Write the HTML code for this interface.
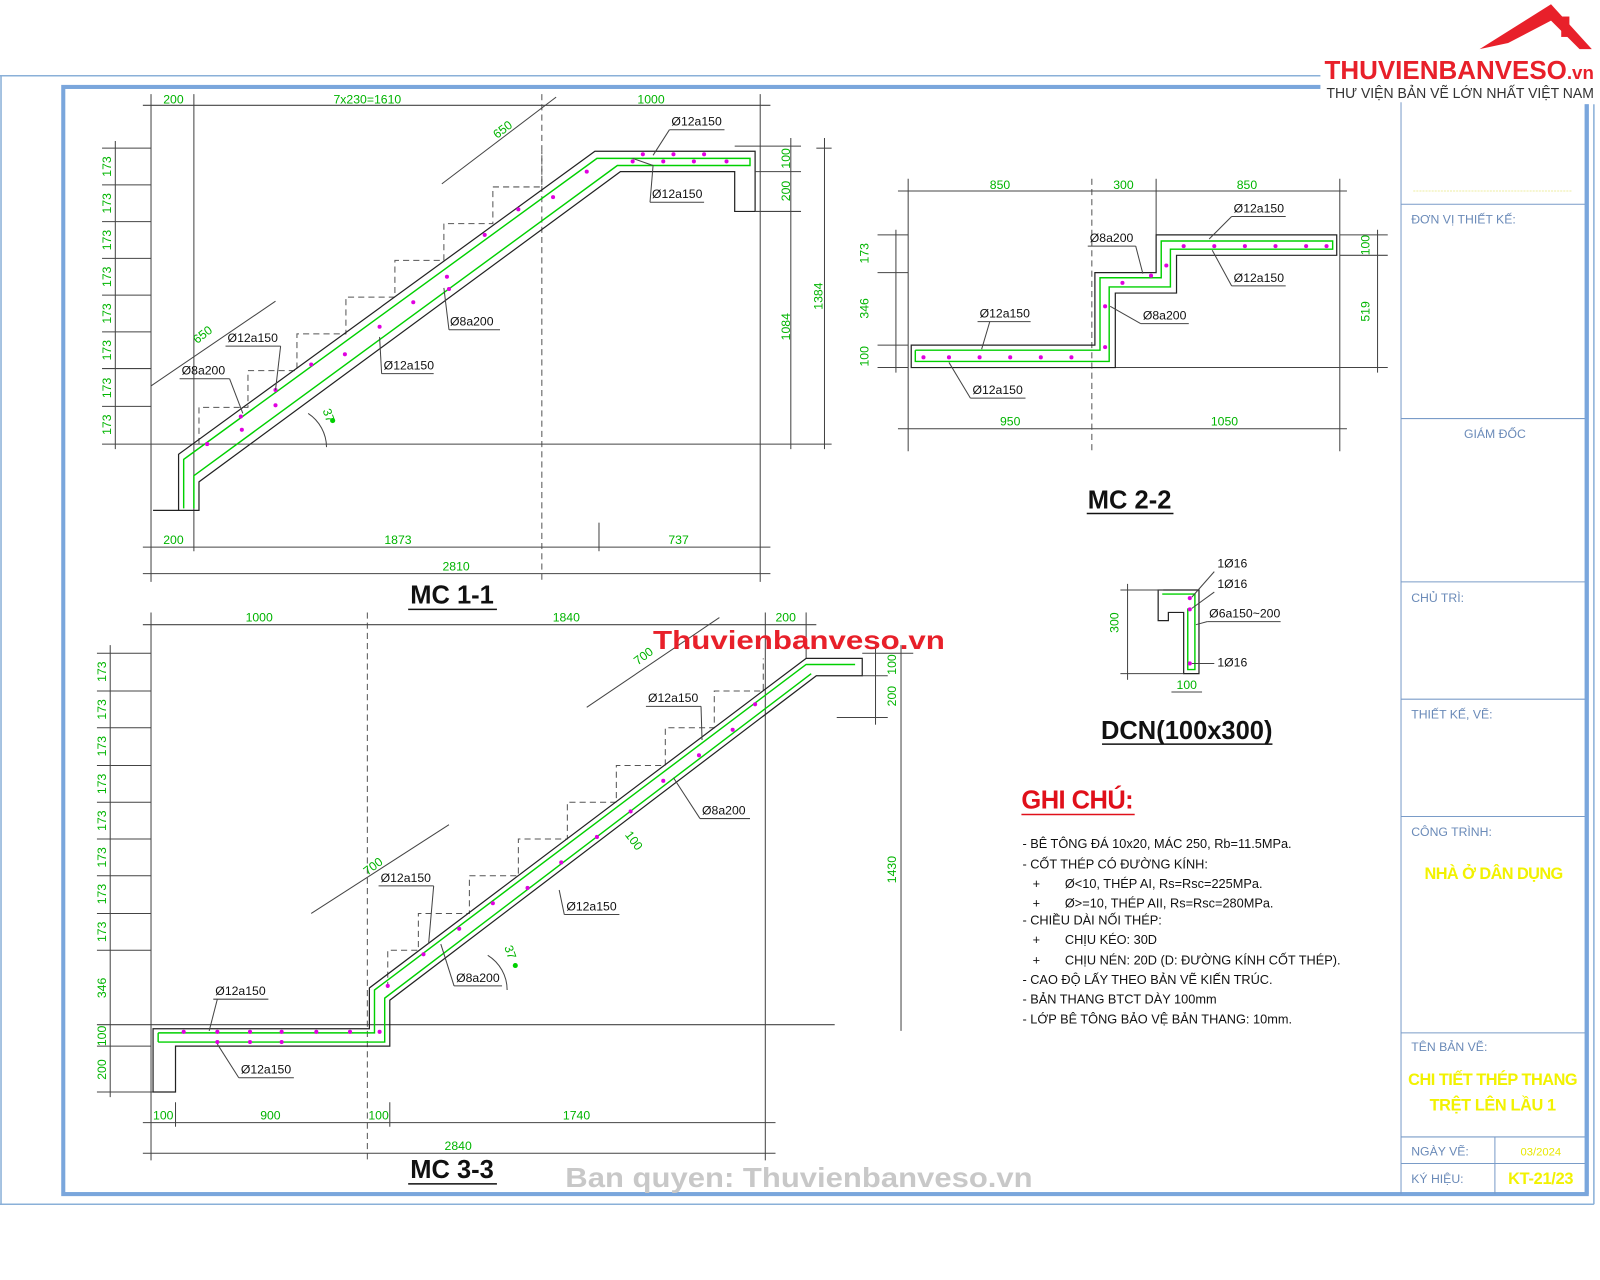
<!DOCTYPE html>
<html><head><meta charset="utf-8"><style>
html,body{margin:0;padding:0;background:#fff;}
svg{display:block}
text{font-family:"Liberation Sans Narrow","Liberation Sans",sans-serif;}
.g{fill:#00b400;font-size:12px}
.k{fill:#111;font-size:12px}
.d{stroke:#444;stroke-width:1;fill:none}
.ds{stroke:#555;stroke-width:1;fill:none;stroke-dasharray:6 4}
.c{stroke:#222;stroke-width:1.2;fill:none}
.r{stroke:#00d000;stroke-width:1.4;fill:none}
.m{fill:#e000e0}
.t{font-size:12px;fill:#6a8ab8}
.y{fill:#f2f200;font-weight:bold;font-size:16px}
.n{font-size:12.5px;fill:#111}
</style></head><body>
<svg width="1600" height="1280" viewBox="0 0 1568 1254" xmlns="http://www.w3.org/2000/svg">
<rect width="1568" height="1254" fill="#fff"/>
<!-- frames -->
<line x1="0" y1="74" x2="1300" y2="74" stroke="#8ab0d8" stroke-width="1.5"/>
<line x1="1" y1="74" x2="1" y2="1180" stroke="#8ab0d8" stroke-width="1.5"/>
<line x1="0" y1="1180" x2="1562" y2="1180" stroke="#8ab0d8" stroke-width="1.5"/>
<line x1="1562" y1="100" x2="1562" y2="1180" stroke="#8ab0d8" stroke-width="1.5"/>
<rect x="62" y="85" width="1493" height="1085" fill="none" stroke="#7aa6dc" stroke-width="4"/>
<rect x="1294" y="0" width="274" height="102" fill="#fff"/>
<!-- title block -->
<g stroke="#7a9cc8" stroke-width="1" fill="none">
<line x1="1373" y1="100" x2="1373" y2="1170"/>
<line x1="1373" y1="200" x2="1555" y2="200"/>
<line x1="1373" y1="410" x2="1555" y2="410"/>
<line x1="1373" y1="570" x2="1555" y2="570"/>
<line x1="1373" y1="685" x2="1555" y2="685"/>
<line x1="1373" y1="800" x2="1555" y2="800"/>
<line x1="1373" y1="1012" x2="1555" y2="1012"/>
<line x1="1373" y1="1114" x2="1555" y2="1114"/>
<line x1="1373" y1="1140" x2="1555" y2="1140"/>
<line x1="1465" y1="1114" x2="1465" y2="1170"/>
</g>
<line x1="1555" y1="102" x2="1555" y2="1170" stroke="#7aa6dc" stroke-width="4"/>
<line x1="1385" y1="187" x2="1540" y2="187" stroke="#eeeea0" stroke-width="1" stroke-dasharray="2 1"/>
<text class="t" x="1383" y="219">ĐƠN VỊ THIẾT KẾ:</text>
<text class="t" x="1465" y="429" text-anchor="middle">GIÁM ĐỐC</text>
<text class="t" x="1383" y="590">CHỦ TRÌ:</text>
<text class="t" x="1383" y="704">THIẾT KẾ, VẼ:</text>
<text class="t" x="1383" y="819">CÔNG TRÌNH:</text>
<text class="y" x="1464" y="861" text-anchor="middle" font-size="15" textLength="136">NHÀ Ở DÂN DỤNG</text>
<text class="t" x="1383" y="1030">TÊN BẢN VẼ:</text>
<text class="y" x="1463" y="1063" text-anchor="middle" textLength="166">CHI TIẾT THÉP THANG</text>
<text class="y" x="1463" y="1088" text-anchor="middle" textLength="124">TRỆT LÊN LẦU 1</text>
<text class="t" x="1383" y="1132">NGÀY VẼ:</text>
<text x="1510" y="1132" text-anchor="middle" font-size="11" fill="#e8e800">03/2024</text>
<text class="t" x="1383" y="1159">KÝ HIỆU:</text>
<text class="y" x="1510" y="1160" text-anchor="middle" textLength="64">KT-21/23</text>
<!-- logo -->
<path d="M1450 48 L1520 4 L1560 48 L1548 48 L1520 20 L1478 42 Z" fill="#e8202a"/>
<rect x="1530" y="16" width="8" height="20" fill="#e8202a"/>
<text x="1298" y="77" font-size="25" font-weight="bold" fill="#e8202a" textLength="264" lengthAdjust="spacingAndGlyphs">THUVIENBANVESO<tspan font-size="18">.vn</tspan></text>
<text x="1300" y="96" font-size="14.5" fill="#333" textLength="262" lengthAdjust="spacingAndGlyphs">THƯ VIỆN BẢN VẼ LỚN NHẤT VIỆT NAM</text>

<!-- ===== MC 1-1 ===== -->
<g>
<line class="d" x1="148" y1="92" x2="148" y2="570"/>
<line class="d" x1="190" y1="92" x2="190" y2="540"/>
<line class="ds" x1="531" y1="92" x2="531" y2="570"/>
<line class="d" x1="745" y1="92" x2="745" y2="570"/>
<line class="d" x1="140" y1="103" x2="755" y2="103"/>
<text class="g" x="170" y="101" text-anchor="middle">200</text>
<text class="g" x="360" y="101" text-anchor="middle">7x230=1610</text>
<text class="g" x="638" y="101" text-anchor="middle">1000</text>
<line class="d" x1="113" y1="138" x2="113" y2="440"/>
<g class="d">
<line x1="100" y1="145" x2="148" y2="145"/><line x1="100" y1="181" x2="148" y2="181"/>
<line x1="100" y1="217" x2="148" y2="217"/><line x1="100" y1="253" x2="148" y2="253"/>
<line x1="100" y1="289" x2="148" y2="289"/><line x1="100" y1="325" x2="148" y2="325"/>
<line x1="100" y1="361" x2="148" y2="361"/><line x1="100" y1="398" x2="148" y2="398"/>
<line x1="100" y1="435" x2="815" y2="435"/>
</g>
<g class="g" font-size="12">
<text transform="translate(109,163) rotate(-90)" text-anchor="middle">173</text>
<text transform="translate(109,199) rotate(-90)" text-anchor="middle">173</text>
<text transform="translate(109,235) rotate(-90)" text-anchor="middle">173</text>
<text transform="translate(109,271) rotate(-90)" text-anchor="middle">173</text>
<text transform="translate(109,307) rotate(-90)" text-anchor="middle">173</text>
<text transform="translate(109,343) rotate(-90)" text-anchor="middle">173</text>
<text transform="translate(109,380) rotate(-90)" text-anchor="middle">173</text>
<text transform="translate(109,416) rotate(-90)" text-anchor="middle">173</text>
</g>
<polyline class="ds" points="195,435 195,399 243,399 243,363 291,363 291,327 339,327 339,291 387,291 387,255 435,255 435,219 483,219 483,183 531,183 531,148"/>
<polygon class="c" points="150,500 175,500 175,445 583,148 740,148 740,207 720,207 720,168 608,168 195,472 195,500 150,500"/>
<polyline class="r" points="180,498 180,450 585,155 735,155 735,162 605,162 190,466 190,498"/>
<g class="m">
<circle cx="203" cy="435" r="2"/><circle cx="236" cy="408" r="2"/><circle cx="270" cy="382" r="2"/><circle cx="305" cy="357" r="2"/><circle cx="338" cy="347" r="2"/><circle cx="372" cy="320" r="2"/><circle cx="405" cy="296" r="2"/><circle cx="438" cy="271" r="2"/><circle cx="475" cy="230" r="2"/><circle cx="508" cy="205" r="2"/><circle cx="542" cy="193" r="2"/><circle cx="575" cy="168" r="2"/>
<circle cx="620" cy="158" r="2"/><circle cx="650" cy="158" r="2"/><circle cx="680" cy="158" r="2"/><circle cx="712" cy="158" r="2"/><circle cx="630" cy="151" r="2"/><circle cx="660" cy="151" r="2"/><circle cx="690" cy="151" r="2"/>
<circle cx="270" cy="397" r="2"/><circle cx="237" cy="421" r="2"/><circle cx="440" cy="283" r="2"/>
</g>
<line class="d" x1="433" y1="180" x2="545" y2="95"/>
<text class="g" transform="translate(487,136) rotate(-37)">650</text>
<line class="d" x1="148" y1="378" x2="270" y2="295"/>
<text class="g" transform="translate(193,337) rotate(-37)">650</text>
<path d="M320 438 A40 40 0 0 0 302 405" class="d"/>
<text class="g" transform="translate(316,402) rotate(70)">37</text>
<circle cx="326" cy="412" r="2.5" fill="#00d000"/>
<text class="k" x="658" y="123">Ø12a150</text><line class="d" x1="656" y1="127" x2="710" y2="127"/>
<line class="d" x1="656" y1="127" x2="640" y2="152"/>
<text class="k" x="639" y="194">Ø12a150</text><line class="d" x1="637" y1="198" x2="690" y2="198"/>
<line class="d" x1="637" y1="198" x2="640" y2="162"/><line class="d" x1="640" y1="162" x2="620" y2="155"/>
<text class="k" x="441" y="319">Ø8a200</text><line class="d" x1="440" y1="323" x2="490" y2="323"/><line class="d" x1="440" y1="323" x2="435" y2="282"/>
<text class="k" x="376" y="362">Ø12a150</text><line class="d" x1="374" y1="366" x2="425" y2="366"/><line class="d" x1="374" y1="366" x2="372" y2="330"/>
<text class="k" x="223" y="335">Ø12a150</text><line class="d" x1="221" y1="339" x2="275" y2="339"/><line class="d" x1="275" y1="339" x2="270" y2="382"/>
<text class="k" x="178" y="367">Ø8a200</text><line class="d" x1="176" y1="371" x2="225" y2="371"/><line class="d" x1="225" y1="371" x2="238" y2="405"/>
<line class="d" x1="140" y1="536" x2="755" y2="536"/>
<line class="d" x1="587" y1="512" x2="587" y2="540"/>
<text class="g" x="170" y="533" text-anchor="middle">200</text>
<text class="g" x="390" y="533" text-anchor="middle">1873</text>
<text class="g" x="665" y="533" text-anchor="middle">737</text>
<line class="d" x1="140" y1="562" x2="755" y2="562"/>
<text class="g" x="447" y="559" text-anchor="middle">2810</text>
<line class="d" x1="720" y1="143" x2="785" y2="143"/>
<line class="d" x1="740" y1="168" x2="785" y2="168"/>
<line class="d" x1="740" y1="207" x2="785" y2="207"/>
<line class="d" x1="775" y1="135" x2="775" y2="440"/>
<line class="d" x1="800" y1="145" x2="815" y2="145"/>
<line class="d" x1="808" y1="135" x2="808" y2="440"/>
<text class="g" transform="translate(774,155) rotate(-90)" text-anchor="middle">100</text>
<text class="g" transform="translate(774,187) rotate(-90)" text-anchor="middle">200</text>
<text class="g" transform="translate(774,320) rotate(-90)" text-anchor="middle">1084</text>
<text class="g" transform="translate(806,290) rotate(-90)" text-anchor="middle">1384</text>
<text x="443" y="591" text-anchor="middle" font-size="25" font-weight="bold" fill="#111">MC 1-1</text>
<line x1="400" y1="597" x2="487" y2="597" stroke="#111" stroke-width="1.5"/>
</g>

<!-- ===== MC 2-2 ===== -->
<g>
<line class="d" x1="890" y1="175" x2="890" y2="442"/>
<line class="ds" x1="1070" y1="175" x2="1070" y2="442"/>
<line class="d" x1="1133" y1="175" x2="1133" y2="230"/>
<line class="d" x1="1313" y1="175" x2="1313" y2="442"/>
<line class="d" x1="880" y1="187" x2="1320" y2="187"/>
<text class="g" x="980" y="185" text-anchor="middle">850</text>
<text class="g" x="1101" y="185" text-anchor="middle">300</text>
<text class="g" x="1222" y="185" text-anchor="middle">850</text>
<line class="d" x1="880" y1="420" x2="1320" y2="420"/>
<text class="g" x="990" y="417" text-anchor="middle">950</text>
<text class="g" x="1200" y="417" text-anchor="middle">1050</text>
<line class="d" x1="878" y1="225" x2="878" y2="365"/>
<g class="d"><line x1="860" y1="230" x2="890" y2="230"/><line x1="860" y1="267" x2="890" y2="267"/><line x1="860" y1="338" x2="890" y2="338"/><line x1="860" y1="360" x2="890" y2="360"/></g>
<text class="g" transform="translate(851,248) rotate(-90)" text-anchor="middle">173</text>
<text class="g" transform="translate(851,302) rotate(-90)" text-anchor="middle">346</text>
<text class="g" transform="translate(851,349) rotate(-90)" text-anchor="middle">100</text>
<line class="d" x1="1350" y1="225" x2="1350" y2="365"/>
<g class="d"><line x1="1313" y1="230" x2="1360" y2="230"/><line x1="1313" y1="250" x2="1360" y2="250"/><line x1="1090" y1="360" x2="1360" y2="360"/></g>
<text class="g" transform="translate(1342,240) rotate(-90)" text-anchor="middle">100</text>
<text class="g" transform="translate(1342,305) rotate(-90)" text-anchor="middle">519</text>
<polygon class="c" points="893,338 1073,338 1073,267 1133,267 1133,230 1310,230 1310,250 1153,250 1153,287 1093,287 1093,360 893,360"/>
<polyline class="r" points="897,343 1078,343 1078,272 1138,272 1138,236 1306,236 1306,244 1147,244 1147,281 1087,281 1087,354 897,354 897,343"/>
<g class="m">
<circle cx="905" cy="350" r="2"/><circle cx="930" cy="350" r="2"/><circle cx="960" cy="350" r="2"/><circle cx="990" cy="350" r="2"/><circle cx="1020" cy="350" r="2"/><circle cx="1050" cy="350" r="2"/><circle cx="1083" cy="340" r="2"/><circle cx="1083" cy="300" r="2"/><circle cx="1100" cy="277" r="2"/><circle cx="1128" cy="270" r="2"/><circle cx="1143" cy="260" r="2"/><circle cx="1160" cy="241" r="2"/><circle cx="1190" cy="241" r="2"/><circle cx="1220" cy="241" r="2"/><circle cx="1250" cy="241" r="2"/><circle cx="1280" cy="241" r="2"/><circle cx="1300" cy="241" r="2"/>
</g>
<text class="k" x="1209" y="208">Ø12a150</text><line class="d" x1="1207" y1="212" x2="1260" y2="212"/><line class="d" x1="1207" y1="212" x2="1185" y2="234"/>
<text class="k" x="1209" y="276">Ø12a150</text><line class="d" x1="1207" y1="280" x2="1260" y2="280"/><line class="d" x1="1207" y1="280" x2="1188" y2="245"/>
<text class="k" x="1068" y="237">Ø8a200</text><line class="d" x1="1066" y1="241" x2="1113" y2="241"/><line class="d" x1="1113" y1="241" x2="1120" y2="268"/>
<text class="k" x="1120" y="313">Ø8a200</text><line class="d" x1="1118" y1="317" x2="1165" y2="317"/><line class="d" x1="1118" y1="317" x2="1088" y2="300"/>
<text class="k" x="960" y="311">Ø12a150</text><line class="d" x1="958" y1="315" x2="1010" y2="315"/><line class="d" x1="970" y1="315" x2="962" y2="342"/>
<text class="k" x="953" y="386">Ø12a150</text><line class="d" x1="951" y1="390" x2="1005" y2="390"/><line class="d" x1="951" y1="390" x2="930" y2="355"/>
<text x="1107" y="498" text-anchor="middle" font-size="25" font-weight="bold" fill="#111">MC 2-2</text>
<line x1="1065" y1="503" x2="1150" y2="503" stroke="#111" stroke-width="1.5"/>
</g>

<!-- ===== DCN ===== -->
<g>
<polygon class="c" points="1135,578 1175,578 1175,660 1160,660 1160,600 1145,600 1145,608 1135,608"/>
<polyline class="r" points="1139,582 1171,582 1171,656 1164,656 1164,596"/>
<circle cx="1166" cy="586" r="2" class="m"/><circle cx="1166" cy="597" r="2" class="m"/><circle cx="1166" cy="650" r="2" class="m"/>
<line class="d" x1="1098" y1="578" x2="1140" y2="578"/><line class="d" x1="1098" y1="660" x2="1160" y2="660"/>
<line class="d" x1="1105" y1="572" x2="1105" y2="666"/>
<text class="g" transform="translate(1096,610) rotate(-90)" text-anchor="middle">300</text>
<line class="d" x1="1148" y1="678" x2="1178" y2="678"/>
<text class="g" x="1163" y="675" text-anchor="middle">100</text>
<text class="k" x="1193" y="556">1Ø16</text><line class="d" x1="1190" y1="560" x2="1168" y2="585"/>
<text class="k" x="1193" y="576">1Ø16</text><line class="d" x1="1190" y1="580" x2="1168" y2="596"/>
<text class="k" x="1185" y="605">Ø6a150~200</text><line class="d" x1="1183" y1="609" x2="1255" y2="609"/><line class="d" x1="1183" y1="609" x2="1172" y2="612"/>
<text class="k" x="1193" y="653">1Ø16</text><line class="d" x1="1190" y1="650" x2="1168" y2="650"/>
<text x="1163" y="724" text-anchor="middle" font-size="25" font-weight="bold" fill="#111">DCN(100x300)</text>
<line x1="1080" y1="729" x2="1247" y2="729" stroke="#111" stroke-width="1.5"/>
</g>

<!-- ===== MC 3-3 ===== -->
<g>
<line class="d" x1="148" y1="600" x2="148" y2="1137"/>
<line class="ds" x1="360" y1="600" x2="360" y2="1137"/>
<line class="d" x1="750" y1="600" x2="750" y2="1137"/>
<line class="d" x1="790" y1="600" x2="790" y2="645"/>
<line class="d" x1="140" y1="612" x2="800" y2="612"/>
<text class="g" x="254" y="609" text-anchor="middle">1000</text>
<text class="g" x="555" y="609" text-anchor="middle">1840</text>
<text class="g" x="770" y="609" text-anchor="middle">200</text>
<line class="d" x1="108" y1="632" x2="108" y2="1075"/>
<g class="d">
<line x1="95" y1="640" x2="148" y2="640"/><line x1="95" y1="677" x2="148" y2="677"/><line x1="95" y1="713" x2="148" y2="713"/><line x1="95" y1="750" x2="148" y2="750"/><line x1="95" y1="786" x2="148" y2="786"/><line x1="95" y1="822" x2="148" y2="822"/><line x1="95" y1="858" x2="148" y2="858"/><line x1="95" y1="895" x2="148" y2="895"/><line x1="95" y1="931" x2="148" y2="931"/><line x1="95" y1="1004" x2="818" y2="1004"/><line x1="95" y1="1025" x2="148" y2="1025"/><line x1="95" y1="1070" x2="172" y2="1070"/>
</g>
<g class="g">
<text transform="translate(104,658) rotate(-90)" text-anchor="middle">173</text>
<text transform="translate(104,695) rotate(-90)" text-anchor="middle">173</text>
<text transform="translate(104,731) rotate(-90)" text-anchor="middle">173</text>
<text transform="translate(104,768) rotate(-90)" text-anchor="middle">173</text>
<text transform="translate(104,804) rotate(-90)" text-anchor="middle">173</text>
<text transform="translate(104,840) rotate(-90)" text-anchor="middle">173</text>
<text transform="translate(104,876) rotate(-90)" text-anchor="middle">173</text>
<text transform="translate(104,913) rotate(-90)" text-anchor="middle">173</text>
<text transform="translate(104,968) rotate(-90)" text-anchor="middle">346</text>
<text transform="translate(104,1015) rotate(-90)" text-anchor="middle">100</text>
<text transform="translate(104,1048) rotate(-90)" text-anchor="middle">200</text>
</g>
<polyline class="ds" points="380,968 380,931 410,931 410,895 460,895 460,858 508,858 508,822 556,822 556,786 604,786 604,750 652,750 652,713 700,713 700,677 748,677 748,645"/>
<polygon class="c" points="150,1008 362,1008 362,968 790,645 845,645 845,662 800,662 382,980 382,1025 172,1025 172,1070 150,1070"/>
<polyline class="r" points="155,1012 367,1012 367,970 790,651 838,651"/>
<polyline class="r" points="155,1021 377,1021 377,978 795,660"/>
<polyline class="r" points="155,1012 155,1021"/>
<g class="m">
<circle cx="180" cy="1011" r="2"/><circle cx="213" cy="1011" r="2"/><circle cx="245" cy="1011" r="2"/><circle cx="276" cy="1011" r="2"/><circle cx="310" cy="1011" r="2"/><circle cx="343" cy="1011" r="2"/><circle cx="372" cy="1011" r="2"/>
<circle cx="213" cy="1021" r="2"/><circle cx="245" cy="1021" r="2"/><circle cx="276" cy="1021" r="2"/>
<circle cx="380" cy="966" r="2"/><circle cx="415" cy="935" r="2"/><circle cx="450" cy="910" r="2"/><circle cx="483" cy="885" r="2"/><circle cx="517" cy="870" r="2"/><circle cx="550" cy="845" r="2"/><circle cx="585" cy="820" r="2"/><circle cx="618" cy="795" r="2"/><circle cx="650" cy="765" r="2"/><circle cx="685" cy="740" r="2"/><circle cx="718" cy="715" r="2"/><circle cx="740" cy="690" r="2"/>
</g>
<line class="d" x1="305" y1="895" x2="440" y2="808"/>
<text class="g" transform="translate(360,858) rotate(-37)">700</text>
<line class="d" x1="575" y1="693" x2="705" y2="605"/>
<text class="g" transform="translate(625,652) rotate(-37)">700</text>
<text class="g" transform="translate(612,818) rotate(53)">100</text>
<path d="M497 970 A40 40 0 0 0 478 936" class="d"/>
<text class="g" transform="translate(494,928) rotate(70)">37</text>
<circle cx="505" cy="946" r="2.5" fill="#00d000"/>
<text class="k" x="635" y="688">Ø12a150</text><line class="d" x1="633" y1="692" x2="687" y2="692"/><line class="d" x1="687" y1="692" x2="688" y2="725"/>
<text class="k" x="688" y="798">Ø8a200</text><line class="d" x1="686" y1="802" x2="735" y2="802"/><line class="d" x1="686" y1="802" x2="660" y2="762"/>
<text class="k" x="555" y="892">Ø12a150</text><line class="d" x1="553" y1="896" x2="607" y2="896"/><line class="d" x1="553" y1="896" x2="548" y2="872"/>
<text class="k" x="373" y="864">Ø12a150</text><line class="d" x1="371" y1="868" x2="425" y2="868"/><line class="d" x1="425" y1="868" x2="420" y2="925"/>
<text class="k" x="447" y="962">Ø8a200</text><line class="d" x1="445" y1="966" x2="492" y2="966"/><line class="d" x1="445" y1="966" x2="432" y2="925"/>
<text class="k" x="211" y="975">Ø12a150</text><line class="d" x1="209" y1="979" x2="263" y2="979"/><line class="d" x1="213" y1="979" x2="205" y2="1010"/>
<text class="k" x="236" y="1052">Ø12a150</text><line class="d" x1="234" y1="1056" x2="288" y2="1056"/><line class="d" x1="234" y1="1056" x2="213" y2="1023"/>
<line class="d" x1="845" y1="640" x2="895" y2="640"/><line class="d" x1="845" y1="662" x2="870" y2="662"/><line class="d" x1="820" y1="703" x2="870" y2="703"/>
<line class="d" x1="858" y1="632" x2="858" y2="710"/>
<line class="d" x1="883" y1="632" x2="883" y2="1010"/>
<text class="g" transform="translate(878,651) rotate(-90)" text-anchor="middle">100</text>
<text class="g" transform="translate(878,682) rotate(-90)" text-anchor="middle">200</text>
<text class="g" transform="translate(878,852) rotate(-90)" text-anchor="middle">1430</text>
<line class="d" x1="140" y1="1100" x2="760" y2="1100"/>
<line class="d" x1="172" y1="1080" x2="172" y2="1104"/><line class="d" x1="382" y1="1080" x2="382" y2="1104"/>
<text class="g" x="160" y="1097" text-anchor="middle">100</text>
<text class="g" x="265" y="1097" text-anchor="middle">900</text>
<text class="g" x="371" y="1097" text-anchor="middle">100</text>
<text class="g" x="565" y="1097" text-anchor="middle">1740</text>
<line class="d" x1="140" y1="1130" x2="760" y2="1130"/>
<text class="g" x="449" y="1127" text-anchor="middle">2840</text>
<text x="443" y="1154" text-anchor="middle" font-size="25" font-weight="bold" fill="#111">MC 3-3</text>
<line x1="400" y1="1160" x2="487" y2="1160" stroke="#111" stroke-width="1.5"/>
</g>

<!-- notes -->
<text x="1001" y="792" font-size="25" font-weight="bold" fill="#e0101a" textLength="110">GHI CHÚ:</text>
<line x1="1001" y1="798" x2="1112" y2="798" stroke="#e0101a" stroke-width="1.5"/>
<g class="n">
<text x="1002" y="831">- BÊ TÔNG ĐÁ 10x20, MÁC 250, Rb=11.5MPa.</text>
<text x="1002" y="851">- CỐT THÉP CÓ ĐƯỜNG KÍNH:</text>
<text x="1012" y="870">+&#160;&#160;&#160;&#160;&#160;&#160;&#160;Ø&lt;10, THÉP AI, Rs=Rsc=225MPa.</text>
<text x="1012" y="889">+&#160;&#160;&#160;&#160;&#160;&#160;&#160;Ø&gt;=10, THÉP AII, Rs=Rsc=280MPa.</text>
<text x="1002" y="906">- CHIỀU DÀI NỐI THÉP:</text>
<text x="1012" y="925">+&#160;&#160;&#160;&#160;&#160;&#160;&#160;CHỊU KÉO: 30D</text>
<text x="1012" y="945">+&#160;&#160;&#160;&#160;&#160;&#160;&#160;CHỊU NÉN: 20D (D: ĐƯỜNG KÍNH CỐT THÉP).</text>
<text x="1002" y="964">- CAO ĐỘ LẤY THEO BẢN VẼ KIẾN TRÚC.</text>
<text x="1002" y="983">- BẢN THANG BTCT DÀY 100mm</text>
<text x="1002" y="1003">- LỚP BÊ TÔNG BẢO VỆ BẢN THANG: 10mm.</text>
</g>
<!-- watermarks -->
<text x="783" y="636" text-anchor="middle" font-size="25" font-weight="bold" fill="#e8202a" textLength="286" lengthAdjust="spacingAndGlyphs">Thuvienbanveso.vn</text>
<text x="783" y="1163" text-anchor="middle" font-size="27" font-weight="bold" fill="#c8c8c8" textLength="458" lengthAdjust="spacingAndGlyphs">Ban quyen: Thuvienbanveso.vn</text>
</svg>
</body></html>
